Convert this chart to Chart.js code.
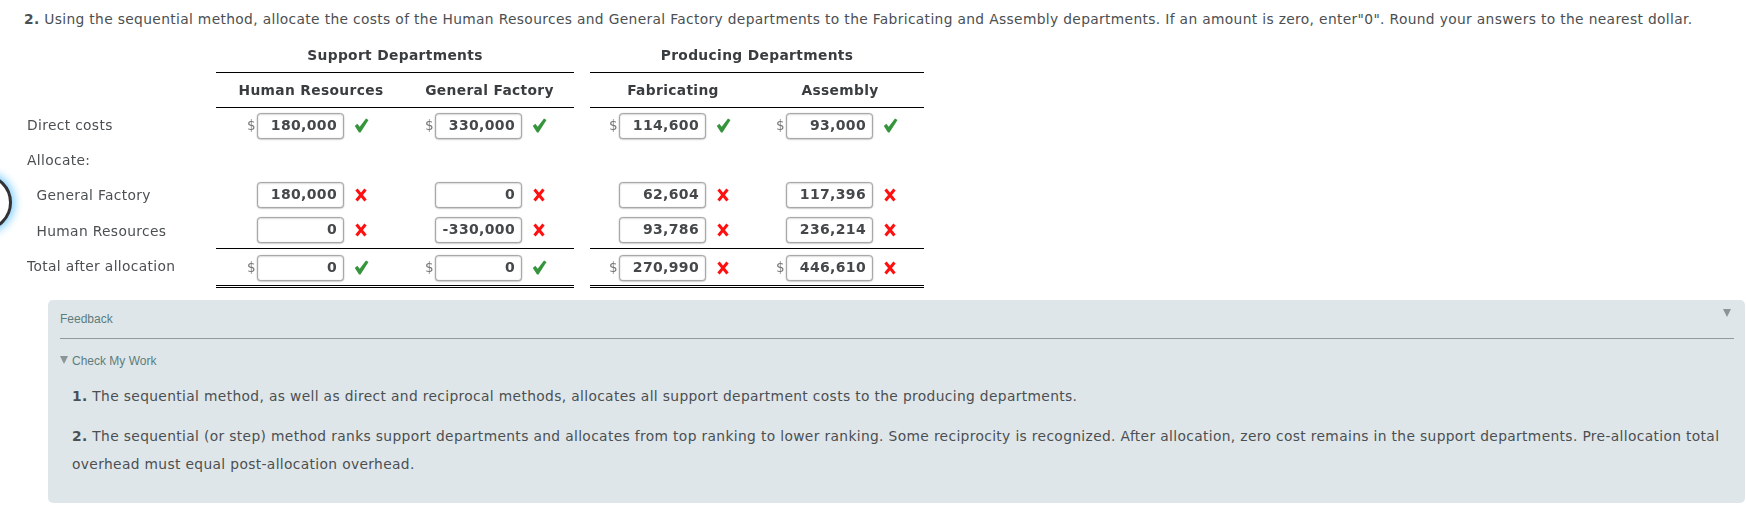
<!DOCTYPE html>
<html>
<head>
<meta charset="utf-8">
<title>Sequential method allocation</title>
<script src="https://cdn.jsdelivr.net/npm/chart.js@4"></script>
<style>
  html, body { margin: 0; padding: 0; background: #fff; }
  body { width: 1746px; height: 526px; position: relative; overflow: hidden; font-family: "DejaVu Sans", sans-serif; color: #4b4f52; }
  #table { position: absolute; left: 0; top: 0; }
  .abs { position: absolute; white-space: nowrap; }
  #question { left: 24px; top: 10px; font-size: 13.8px; letter-spacing: 0.345px; line-height: 18px; }
  #focus { left: -44.7px; top: 174px; width: 51px; height: 51px; border: 3.5px solid #333; border-radius: 50%; box-shadow: 0 0 8px 3px #86d2ff; background: #fff; }
  #panel { left: 48px; top: 300px; width: 1697px; height: 203px; background: #dfe6e9; border-radius: 5px; }
  #rule { left: 60px; top: 338px; width: 1674px; height: 1px; background: #8f9a9f; }
  .small { font-family: "Liberation Sans", sans-serif; font-size: 12px; color: #5c7d7d; line-height: 14px; }
  .note { left: 72px; font-size: 13.8px; letter-spacing: 0.355px; line-height: 28px; }
  .tri { width: 0; height: 0; border-left: 4px solid transparent; border-right: 4px solid transparent; border-top: 8px solid #8a9599; }
</style>
</head>
<body>
<div class="abs" id="focus"></div>
<div class="abs" id="panel"></div>
<div class="abs" id="rule"></div>
<div class="abs" id="question"><b>2.</b> Using the sequential method, allocate the costs of the Human Resources and General Factory departments to the Fabricating and Assembly departments. If an amount is zero, enter"0". Round your answers to the nearest dollar.</div>
<div class="abs small" style="left:60px;top:312px">Feedback</div>
<div class="abs tri" style="left:1723px;top:309px"></div>
<div class="abs tri" style="left:60px;top:356px"></div>
<div class="abs small" style="left:72px;top:354px">Check My Work</div>
<div class="abs note" style="top:382px"><b>1.</b> The sequential method, as well as direct and reciprocal methods, allocates all support department costs to the producing departments.</div>
<div class="abs note" style="top:422px"><b>2.</b> The sequential (or step) method ranks support departments and allocates from top ranking to lower ranking. Some reciprocity is recognized. After allocation, zero cost remains in the support departments. Pre-allocation total<br>overhead must equal post-allocation overhead.</div>
<canvas id="table" width="1746" height="300"></canvas>
<script>
var columns = ['Human Resources', 'General Factory', 'Fabricating', 'Assembly'];
var groups = ['Support Departments', 'Producing Departments'];
var rows = ['', ' ', 'Direct costs', 'Allocate:', 'General Factory', 'Human Resources', 'Total after allocation'];

var directCosts = [180000, 330000, 114600, 93000];
var allocGeneralFactory = [180000, 0, 62604, 117396];
var allocHumanResources = [0, -330000, 93786, 236214];
var totalAfterAllocation = [0, 0, 270990, 446610];

var directCorrect = [true, true, true, true];
var generalFactoryCorrect = [false, false, false, false];
var humanResourcesCorrect = [false, false, false, false];
var totalCorrect = [true, true, false, false];

// small pixel corrections, the source table is not evenly spaced
var colNudge = [0.5, 2, 8.5, -1.5];
var rowNudge = { 'Direct costs': -0.4, 'General Factory': -2.7, 'Human Resources': -3.1, 'Total after allocation': -0.5 };
var indented = ['General Factory', 'Human Resources'];

function makeSet(rowName, values, marks, dollar) {
  return {
    label: rowName,
    showLine: false,
    pointRadius: 0,
    dollar: dollar,
    marks: marks,
    values: values,
    data: columns.map(function (c) { return { x: c, y: rowName }; })
  };
}

function drawCheck(ctx, x, y) {
  ctx.fillStyle = '#36953c';
  ctx.beginPath();
  ctx.moveTo(x - 6.7, y + 0.5);
  ctx.lineTo(x - 4.2, y - 1.8);
  ctx.lineTo(x - 1.8, y + 1.2);
  ctx.lineTo(x + 4.5, y - 7);
  ctx.lineTo(x + 7, y - 5.5);
  ctx.lineTo(x - 1, y + 7);
  ctx.lineTo(x - 2.5, y + 7);
  ctx.closePath();
  ctx.fill();
}

function drawCross(ctx, x, y) {
  ctx.strokeStyle = '#ff1010';
  ctx.lineWidth = 3;
  ctx.beginPath();
  ctx.moveTo(x - 4.5, y - 5.5);
  ctx.lineTo(x + 4.5, y + 5.5);
  ctx.moveTo(x + 4.5, y - 5.5);
  ctx.lineTo(x - 4.5, y + 5.5);
  ctx.stroke();
}

var tablePlugin = {
  id: 'tablePlugin',
  beforeDraw: function (chart) {
    chart.ctx.letterSpacing = '0.35px';
  },
  afterDatasetsDraw: function (chart) {
    var ctx = chart.ctx, xs = chart.scales.x, ys = chart.scales.y;
    var band = ys.getPixelForValue(1) - ys.getPixelForValue(0);
    function colX(i) { return xs.getPixelForValue(i) + colNudge[i]; }
    function edge(i) { return ys.getPixelForValue(i) + band / 2; }
    var spans = [[colX(0) - 95, colX(1) + 84.5], [colX(2) - 83, colX(3) + 84]];

    ctx.save();
    // rules under the headers, above and below the total
    ctx.strokeStyle = '#000';
    ctx.lineWidth = 1;
    spans.forEach(function (s) {
      [edge(0), edge(1), edge(5), edge(6) + 1.4, edge(6) + 3.4].forEach(function (y) {
        var py = Math.round(y - 1.4) + 0.5;
        ctx.beginPath();
        ctx.moveTo(s[0], py);
        ctx.lineTo(s[1], py);
        ctx.stroke();
      });
    });

    // headers
    ctx.textAlign = 'center';
    ctx.textBaseline = 'middle';
    ctx.fillStyle = '#3a3d40';
    ctx.font = 'bold 13.8px "DejaVu Sans"';
    groups.forEach(function (g, i) {
      ctx.fillText(g, (spans[i][0] + spans[i][1]) / 2, ys.getPixelForValue(0) + 0.7);
    });
    columns.forEach(function (c, i) {
      ctx.fillText(c, colX(i), ys.getPixelForValue(1) + 0.4);
    });

    // cells
    chart.data.datasets.forEach(function (ds, d) {
      var meta = chart.getDatasetMeta(d);
      meta.data.forEach(function (pt, i) {
        var cx = pt.x + colNudge[i] - 10.5;
        var cy = pt.y + (rowNudge[ds.label] || 0);
        var left = Math.round(cx - 43) - 0.5, right = left + 86;
        var top = Math.round(cy - 12.5) + 0.5;
        ctx.save();
        ctx.shadowColor = 'rgba(0,0,0,0.3)';
        ctx.shadowBlur = 1.5;
        ctx.shadowOffsetY = 0.5;
        ctx.fillStyle = '#fff';
        ctx.strokeStyle = '#a8a8a8';
        ctx.lineWidth = 1;
        ctx.beginPath();
        ctx.roundRect(left, top, 86, 25, 3);
        ctx.fill();
        ctx.stroke();
        ctx.restore();

        ctx.fillStyle = '#45484a';
        ctx.font = 'bold 14px "DejaVu Sans"';
        ctx.textAlign = 'right';
        ctx.fillText(ds.values[i].toLocaleString('en-US'), right - 6.5, top + 13);

        if (ds.dollar) {
          ctx.fillStyle = '#777';
          ctx.font = '13.5px "DejaVu Sans"';
          ctx.textAlign = 'center';
          ctx.fillText('$', left - 6, top + 13);
        }
        if (ds.marks[i]) drawCheck(ctx, right + 18, top + 12);
        else drawCross(ctx, right + 17.5, top + 12.5);
      });
    });
    ctx.restore();
  }
};

new Chart(document.getElementById('table').getContext('2d'), {
  type: 'line',
  plugins: [tablePlugin],
  data: {
    datasets: [
      makeSet('Direct costs', directCosts, directCorrect, true),
      makeSet('General Factory', allocGeneralFactory, generalFactoryCorrect, false),
      makeSet('Human Resources', allocHumanResources, humanResourcesCorrect, false),
      makeSet('Total after allocation', totalAfterAllocation, totalCorrect, true)
    ]
  },
  options: {
    responsive: false,
    animation: false,
    layout: { padding: { left: 27, right: 816, top: 37.6, bottom: 14.8 } },
    plugins: { legend: { display: false }, tooltip: { enabled: false } },
    scales: {
      x: { type: 'category', labels: columns, offset: true, display: false },
      y: {
        type: 'category',
        labels: rows,
        offset: true,
        grid: { display: false },
        border: { display: false },
        afterFit: function (s) { s.width = 195; },
        ticks: {
          crossAlign: 'far',
          padding: 0,
          autoSkip: false,
          color: '#4b4f52',
          font: { family: '"DejaVu Sans"', size: 13.8 },
          callback: function (v) {
            var name = this.getLabelForValue(v);
            return indented.indexOf(name) >= 0 ? '  ' + name : name;
          }
        }
      }
    }
  }
});
</script>
</body>
</html>
